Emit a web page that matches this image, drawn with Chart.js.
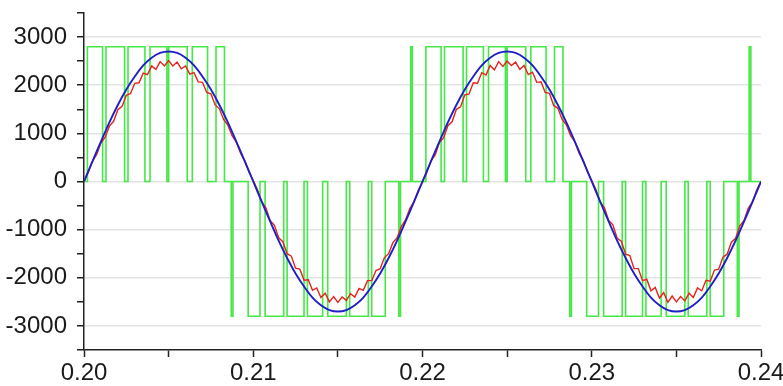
<!DOCTYPE html>
<html lang="en">

<head>
    <meta charset="utf-8">
    <title>Inverter Output</title>
    <script src="https://cdn.jsdelivr.net/npm/chart.js"></script>
    <style>
        body { margin: 0; background: #fff; }
        #wrap { width: 783px; height: 386px; }
    </style>
</head>
<body>
<div id="wrap">
    <canvas id="waveChart"></canvas>
</div>

<script>
    // PWM output: switching instants (s) and the level from that instant on
    let pwmTimes = [
        0.2000, 0.2002, 0.2011, 0.2013, 0.2024, 0.2026, 0.2036, 0.2039, 0.2049, 0.2050,
        0.2061, 0.2064, 0.2073, 0.2078, 0.2083, 0.2087, 0.2088, 0.2097, 0.2104, 0.2107,
        0.2118, 0.2120, 0.2130, 0.2132, 0.2141, 0.2144, 0.2155, 0.2157, 0.2168, 0.2170,
        0.2178, 0.2186, 0.2187, 0.2193, 0.2194,
        0.2202, 0.2211, 0.2213, 0.2224, 0.2226, 0.2236, 0.2239, 0.2249, 0.2250,
        0.2261, 0.2264, 0.2273, 0.2278, 0.2283, 0.2287, 0.2288, 0.2297, 0.2304, 0.2307,
        0.2318, 0.2320, 0.2330, 0.2332, 0.2341, 0.2344, 0.2355, 0.2357, 0.2368, 0.2370,
        0.2378, 0.2386, 0.2387, 0.2393, 0.2394, 0.2400
    ]
    let pwmLevels = [
        0, 2800, 0, 2800, 0, 2800, 0, 2800, 0, 2800,
        0, 2800, 0, 2800, 0, -2800, 0, -2800, 0, -2800,
        0, -2800, 0, -2800, 0, -2800, 0, -2800, 0, -2800,
        0, -2800, 0, 2800, 0,
        2800, 0, 2800, 0, 2800, 0, 2800, 0, 2800,
        0, 2800, 0, 2800, 0, -2800, 0, -2800, 0, -2800,
        0, -2800, 0, -2800, 0, -2800, 0, -2800, 0, -2800,
        0, -2800, 0, 2800, 0, 0
    ]

    // reference sine, sampled every 0.5 ms from t = 0.20
    let sineStart = 0.2
    let sineStep = 0.0005
    let sineValues = [
        0, 420, 830, 1230, 1590, 1910, 2180, 2410, 2570, 2670,
        2700, 2670, 2570, 2410, 2180, 1910, 1590, 1230, 830, 420,
        0, -420, -830, -1230, -1590, -1910, -2180, -2410, -2570, -2670,
        -2700, -2670, -2570, -2410, -2180, -1910, -1590, -1230, -830, -420,
        0, 420, 830, 1230, 1590, 1910, 2180, 2410, 2570, 2670,
        2700, 2670, 2570, 2410, 2180, 1910, 1590, 1230, 830, 420,
        0, -420, -830, -1230, -1590, -1910, -2180, -2410, -2570, -2670,
        -2700, -2670, -2570, -2410, -2180, -1910, -1590, -1230, -830, -420,
        0
    ]

    // filtered output, sampled every 0.25 ms from t = 0.20
    let filterStart = 0.2
    let filterStep = 0.00025
    let filterValues = [
        0, 190, 420, 560, 800, 920, 1150, 1250, 1490, 1560,
        1790, 1830, 2040, 2050, 2250, 2220, 2400, 2330, 2490, 2400,
        2510, 2400, 2480, 2340, 2400, 2230, 2260, 2070, 2060, 1850,
        1820, 1590, 1510, 1290, 1170, 950, 820, 590, 430, 200,
        20, -170, -420, -550, -810, -910, -1170, -1250, -1500, -1550,
        -1800, -1820, -2050, -2040, -2260, -2210, -2410, -2320, -2500, -2390,
        -2510, -2400, -2470, -2330, -2400, -2220, -2260, -2060, -2060, -1850,
        -1810, -1580, -1500, -1270, -1170, -930, -800, -560, -420, -180,
        -10, 180, 430, 550, 810, 910, 1160, 1240, 1500, 1550,
        1800, 1820, 2050, 2040, 2260, 2210, 2410, 2320, 2490, 2390,
        2500, 2410, 2480, 2330, 2410, 2220, 2270, 2060, 2070, 1850,
        1830, 1580, 1520, 1290, 1180, 950, 830, 590, 440, 200,
        20, -170, -430, -540, -810, -900, -1180, -1240, -1510, -1540,
        -1810, -1810, -2060, -2030, -2270, -2200, -2420, -2310, -2510, -2380,
        -2500, -2390, -2480, -2320, -2410, -2210, -2270, -2050, -2070, -1840,
        -1820, -1570, -1510, -1260, -1180, -920, -810, -550, -430, -170,
        0
    ]

    let xMin = 0.20
    let xMax = 0.24
    let yMin = -3500
    let yMax = 3500

    let pwmPoints = pwmTimes.map((t, i) => ({x: t, y: pwmLevels[i]}))
    let sinePoints = sineValues.map((v, i) => ({x: sineStart + i * sineStep, y: v}))
    let filterPoints = filterValues.map((v, i) => ({x: filterStart + i * filterStep, y: v}))

    let tickFont = {family: "'Liberation Sans', Arial, sans-serif", size: 24}

    new Chart(document.getElementById('waveChart'), {
        type: 'line',
        data: {
            datasets: [{
                label: 'sine',
                data: sinePoints,
                borderColor: '#1f1fc8',
                borderWidth: 1.9,
                tension: 0.3,
                pointRadius: 0,
                order: 1
            }, {
                label: 'filtered',
                data: filterPoints,
                borderColor: '#e4231c',
                borderWidth: 1.4,
                tension: 0,
                pointRadius: 0,
                order: 2
            }, {
                label: 'pwm',
                data: pwmPoints,
                borderColor: '#45e845',
                borderWidth: 1.6,
                stepped: true,
                pointRadius: 0,
                order: 3
            }]
        },
        options: {
            responsive: true,
            maintainAspectRatio: false,
            animation: false,
            layout: {
                padding: {top: 13, right: 22, left: 0, bottom: 0}
            },
            plugins: {
                legend: {display: false},
                tooltip: {enabled: false}
            },
            scales: {
                x: {
                    type: 'linear',
                    min: xMin,
                    max: xMax,
                    afterFit: function (s) {
                        s.height = 36
                        s.paddingLeft = 0
                        s.paddingRight = 0
                    },
                    border: {color: '#222', width: 1.5},
                    grid: {
                        drawOnChartArea: false,
                        tickLength: 7,
                        tickColor: '#222',
                        tickWidth: 1.5
                    },
                    ticks: {
                        stepSize: 0.005,
                        autoSkip: false,
                        maxRotation: 0,
                        padding: 2,
                        color: '#1a1a1a',
                        font: tickFont,
                        callback: function (v) {
                            let n = Math.round(v * 1000)
                            return n % 10 === 0 ? (n / 1000).toFixed(2) : ''
                        }
                    }
                },
                y: {
                    min: yMin,
                    max: yMax,
                    afterFit: function (s) {
                        s.width = 84
                        s.paddingTop = 0
                        s.paddingBottom = 0
                    },
                    border: {color: '#222', width: 1.5},
                    grid: {
                        color: function (ctx) {
                            let v = ctx.tick ? ctx.tick.value : 0
                            return Math.round(v) % 1000 === 0 ? '#e4e4e4' : 'rgba(0,0,0,0)'
                        },
                        lineWidth: 1.5,
                        tickLength: 7,
                        tickColor: '#222',
                        tickWidth: 1.5
                    },
                    ticks: {
                        stepSize: 500,
                        autoSkip: false,
                        padding: 10,
                        color: '#1a1a1a',
                        font: tickFont,
                        callback: function (v) {
                            return Math.round(v) % 1000 === 0 ? String(Math.round(v)) : ''
                        }
                    }
                }
            }
        }
    })
</script>
</body>
</html>
